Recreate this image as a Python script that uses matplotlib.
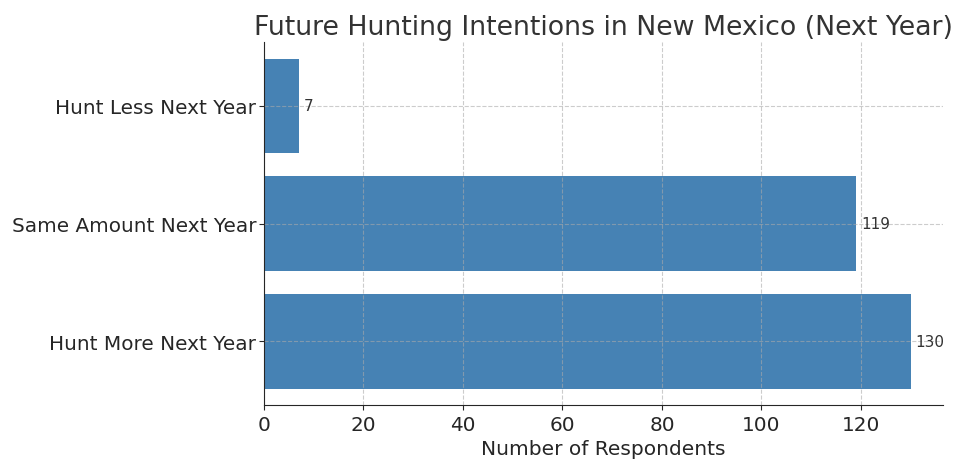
import matplotlib
matplotlib.use("Agg")
import matplotlib.pyplot as plt

categories = ["Hunt More Next Year", "Same Amount Next Year", "Hunt Less Next Year"]
values = [130, 119, 7]
title = "Future Hunting Intentions in New Mexico (Next Year)"
xlabel = "Number of Respondents"

plt.rcParams['font.family'] = ['DejaVu Sans']
fig = plt.figure(figsize=(9.55, 4.6), dpi=100)
ax = fig.add_axes([264/955, 1-406/460, (943-264)/955, (406-43)/460])

bars = ax.barh(categories, values, color='steelblue', height=0.8, zorder=2)
for b, v in zip(bars, values):
    ax.text(b.get_width() + 1, b.get_y() + b.get_height()/2, str(v),
            va='center', ha='left', fontsize=11, color='#333333')

ax.set_title(title, fontsize=19.3, color='#333333')
ax.set_xlabel(xlabel, fontsize=14.5, color='#262626')
ax.tick_params(axis='both', labelsize=14.4, colors='#262626')
ax.tick_params(axis='y', pad=2)
ax.grid(True, linestyle='--', color='#aaaaaa', alpha=0.6, linewidth=0.8, zorder=3)
ax.set_axisbelow(False)
for s in ['top', 'right']:
    ax.spines[s].set_visible(False)
for s in ['left', 'bottom']:
    ax.spines[s].set_color('#262626')
    ax.spines[s].set_zorder(5)

fig.savefig("out.png", dpi=100)
